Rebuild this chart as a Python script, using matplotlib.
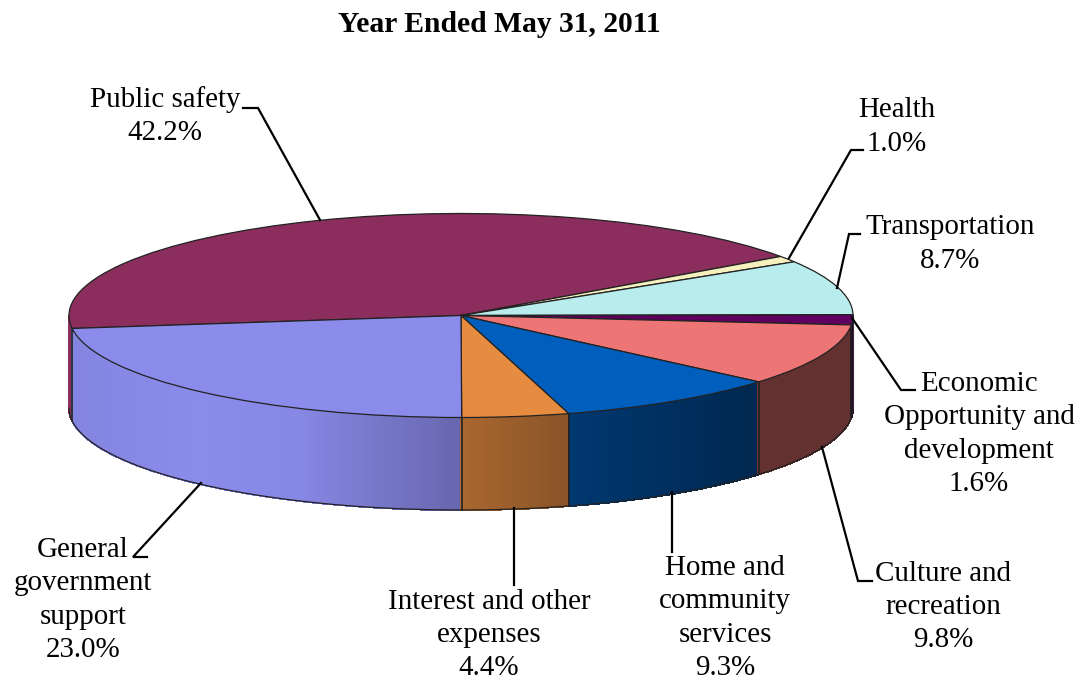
import numpy as np
import matplotlib
matplotlib.use('Agg')
import matplotlib.pyplot as plt
from matplotlib.patches import Wedge
from matplotlib.transforms import Affine2D

plt.rcParams['font.family'] = ['Liberation Serif', 'DejaVu Serif']

# Spending shares, in drawing order going clockwise
names = ['Public safety', 'Health', 'Transportation',
         'Economic\nOpportunity and\ndevelopment', 'Culture and\nrecreation',
         'Home and\ncommunity\nservices', 'Interest and other\nexpenses',
         'General\ngovernment\nsupport']
shares = [42.2, 1.0, 8.7, 1.6, 9.8, 9.3, 4.4, 23.0]
colors = ['#8b2e5d', '#f5f0be', '#b9ecec', '#5f005f',
          '#ee7575', '#005ebc', '#e68c41', '#8b8bec']

# Label centres and leader lines, in pixels
label_xy = [(165, 116), (897, 127), (950, 244), (979, 434),
            (943, 607), (725, 618), (489, 635), (83, 600)]
leaders = [[(243, 108), (258, 108), (320, 220)],
           [(863, 150), (851, 150), (789, 258)],
           [(860, 234), (849, 234), (837, 288)],
           [(915, 390), (901, 390), (852, 318)],
           [(872, 581), (858, 581), (822, 447)],
           [(672, 492), (672, 552)],
           [(514, 508), (514, 585)],
           [(147, 557), (133, 557), (201, 483)]]

cx, cy = 461, 315.5
rx, ry = 392, 102
depth = 92.5
start = 187.3

fig = plt.figure(figsize=(10.83, 6.81), dpi=100)
ax = fig.add_axes([0, 0, 1, 1])
ax.set_xlim(0, 1083)
ax.set_ylim(681, 0)
ax.axis('off')

# slice boundaries in degrees, clockwise from the start angle
bounds = start - np.cumsum([0] + shares) * 3.6


def shade(x):
    # side wall gets darker towards the right
    return np.interp(x, [70, 200, 300, 461, 568, 760, 852],
                     [0.95, 1.0, 0.97, 0.74, 0.6, 0.42, 0.42])


def slice_at(angle):
    a = (angle - bounds[-1]) % 360 + bounds[-1]
    return np.searchsorted(-bounds, -a) - 1


# front wall, one thin strip at a time
steps = np.linspace(180, 360, 541)
for t0, t1 in zip(steps[:-1], steps[1:]):
    i = slice_at((t0 + t1) / 2)
    xs = cx + rx * np.cos(np.radians([t0, t1]))
    ys = cy - ry * np.sin(np.radians([t0, t1]))
    c = np.array(matplotlib.colors.to_rgb(colors[i])) * shade(xs.mean())
    if i == 0:
        c = np.array(matplotlib.colors.to_rgb(colors[i]))
    ax.fill([xs[0], xs[1], xs[1], xs[0]],
            [ys[0], ys[1], ys[1] + depth, ys[0] + depth],
            color=c, lw=0.8, antialiased=False, zorder=1)

# outline of the wall
tt = np.radians(steps)
ax.plot(cx + rx * np.cos(tt), cy - ry * np.sin(tt) + depth,
        color='#222222', lw=0.9, zorder=2)
ax.plot([cx + rx, cx + rx], [cy, cy + depth], color='#333333', lw=0.8, zorder=2)
for b in bounds[:-1]:
    if np.sin(np.radians(b)) < 0:
        x = cx + rx * np.cos(np.radians(b))
        y = cy - ry * np.sin(np.radians(b))
        ax.plot([x, x], [y, y + depth], color='#222222', lw=1.2, zorder=2)

# top face
ellipse = Affine2D().scale(rx, -ry).translate(cx, cy) + ax.transData
for i, c in enumerate(colors):
    ax.add_patch(Wedge((0, 0), 1, bounds[i + 1], bounds[i], facecolor=c,
                       edgecolor='#222222', lw=0.9, transform=ellipse, zorder=3))

# labels and leaders
for name, share, xy, pts in zip(names, shares, label_xy, leaders):
    ax.text(xy[0], xy[1], f'{name}\n{share:.1f}%', ha='center', va='center',
            fontsize=20.9, linespacing=1.36, color='black', zorder=5)
    ax.plot(*zip(*pts), color='black', lw=1.6, zorder=4, solid_joinstyle='miter')

ax.text(499, 24, 'Year Ended May 31, 2011', ha='center', va='center',
        fontsize=21.3, fontweight='bold')

fig.savefig('out.png', dpi=100)
